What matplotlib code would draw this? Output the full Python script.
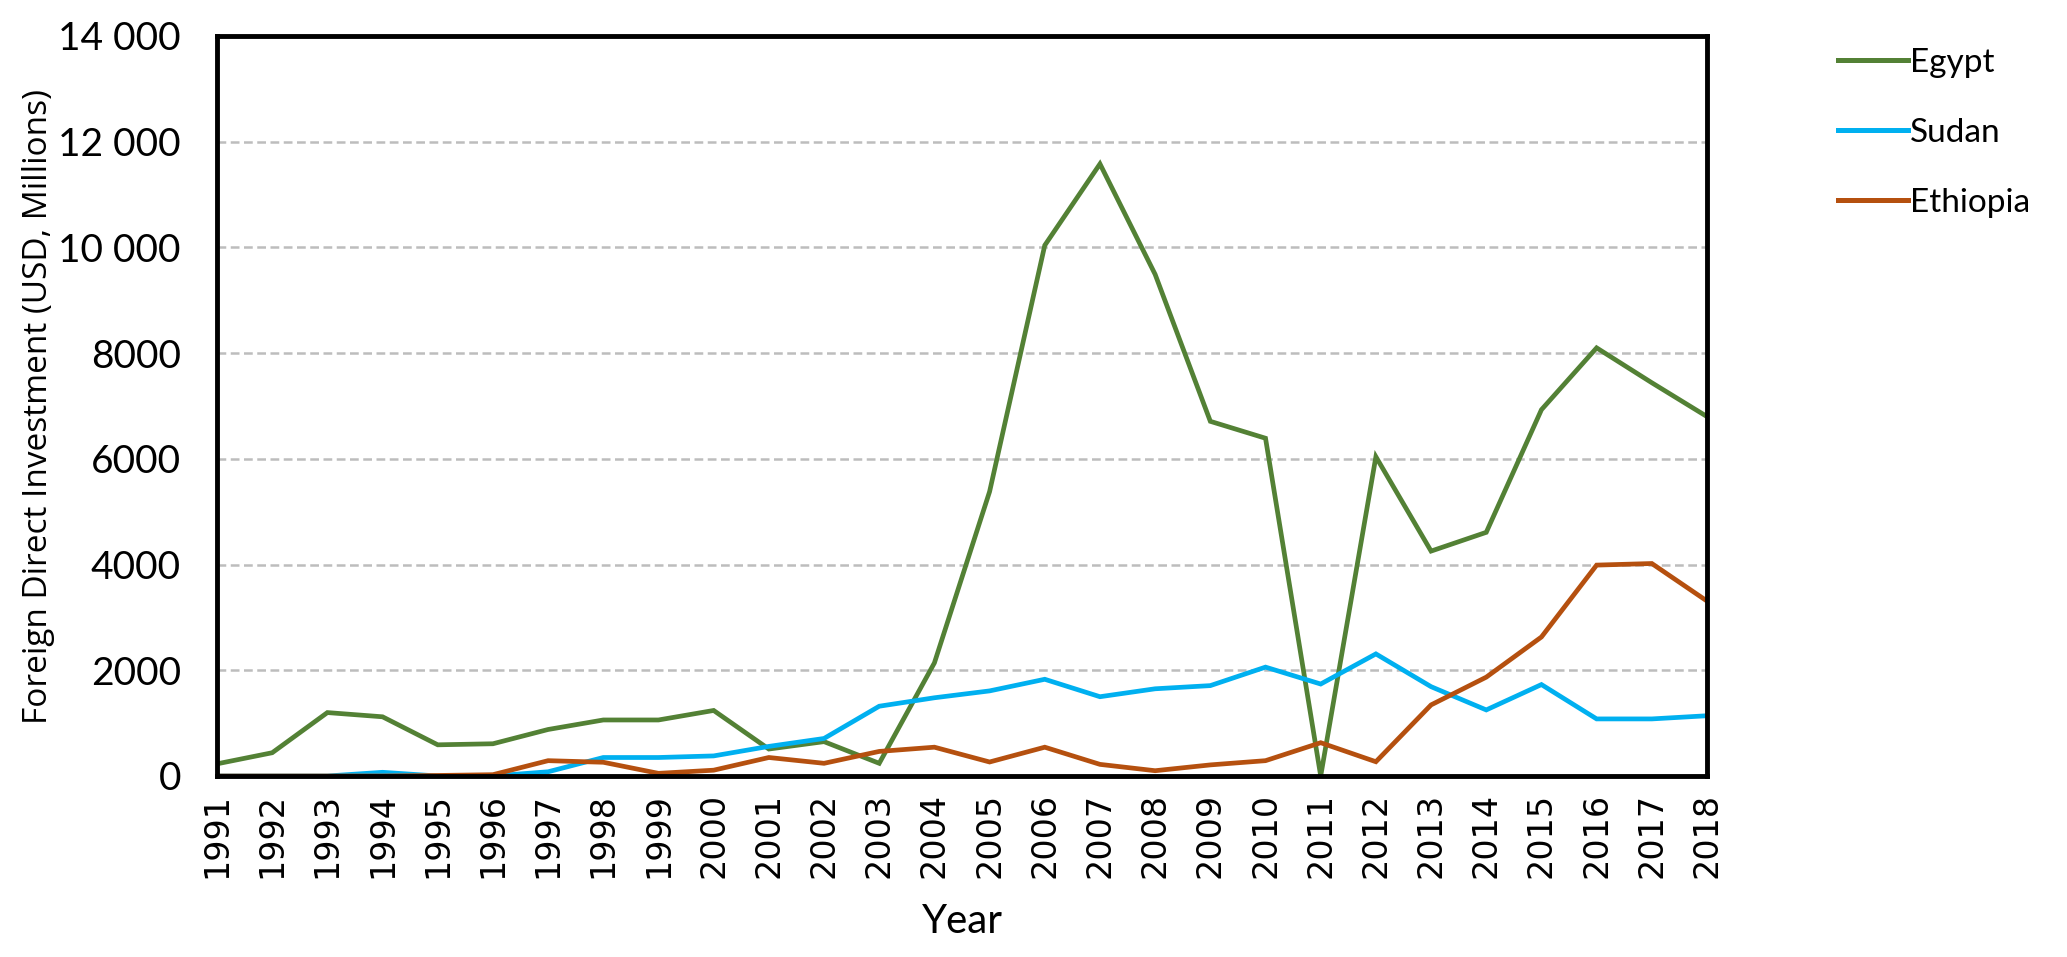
import matplotlib
matplotlib.use("Agg")
import matplotlib.pyplot as plt
from matplotlib.ticker import FixedLocator, FixedFormatter

years = list(range(1991, 2019))
egypt = [230, 440, 1200, 1120, 590, 610, 880, 1060, 1060, 1240, 510, 650, 240, 2140,
         5380, 10040, 11580, 9490, 6710, 6390, 0, 6040, 4255, 4610, 6930, 8100, 7440, 6800]
sudan = [0, 0, 0, 70, 0, 0, 80, 350, 350, 380, 560, 710, 1320, 1480,
         1610, 1830, 1500, 1650, 1710, 2060, 1740, 2310, 1690, 1250, 1730, 1080, 1080, 1140]
ethiopia = [0, 0, 0, 0, 10, 25, 290, 260, 50, 110, 350, 240, 465, 545,
            265, 545, 220, 100, 210, 290, 630, 270, 1345, 1870, 2630, 3990, 4020, 3310]
series_names = ["Egypt", "Sudan", "Ethiopia"]
colors = ["#538135", "#00B0F0", "#B5500F"]
y_ticks = [0, 2000, 4000, 6000, 8000, 10000, 12000, 14000]
y_tick_labels = ["0", "2000", "4000", "6000", "8000", "10 000", "12 000", "14 000"]

calib = ["Lato", "DejaVu Sans"]

fig = plt.figure(figsize=(20.67, 9.57), dpi=100)
ax = fig.add_axes([217/2067, 181/957, 1490/2067, 740/957])

for name, vals, c in zip(series_names, [egypt, sudan, ethiopia], colors):
    ax.plot(years, vals, color=c, lw=3.4, label=name, solid_joinstyle="miter", zorder=3)

ax.set_xlim(1991, 2018)
ax.set_ylim(0, 14000)
ax.yaxis.set_major_locator(FixedLocator(y_ticks))
ax.yaxis.set_major_formatter(FixedFormatter(y_tick_labels))
ax.set_xticks(years)
ax.set_xticklabels([str(y) for y in years], rotation=90, fontsize=24,
                   family="DejaVu Sans")
for lab in ax.get_yticklabels():
    lab.set_family(calib)
    lab.set_fontsize(28)
ax.tick_params(axis="x", length=0, pad=12)
ax.tick_params(axis="y", length=0, pad=26)

ax.grid(axis="y", color="#BDBDBD", linestyle=(0, (3.5, 1.8)), lw=1.8, zorder=1)
for sp in ax.spines.values():
    sp.set_linewidth(3.5)
    sp.set_color("black")
    sp.set_zorder(4)

ax.set_ylabel("Foreign Direct Investment (USD, Millions)", fontsize=24,
              family=["Open Sans", "DejaVu Sans"], labelpad=2)
ax.set_xlabel("Year", fontsize=29, family=calib, labelpad=18)

leg = ax.legend(loc="upper left", bbox_to_anchor=(1.068, 1.025), frameon=False,
                prop={"family": calib, "size": 24}, handlelength=2.1,
                handletextpad=0.05, labelspacing=1.2)
for h in leg.get_lines():
    h.set_linewidth(3.6)

fig.savefig("out.png", dpi=100)
